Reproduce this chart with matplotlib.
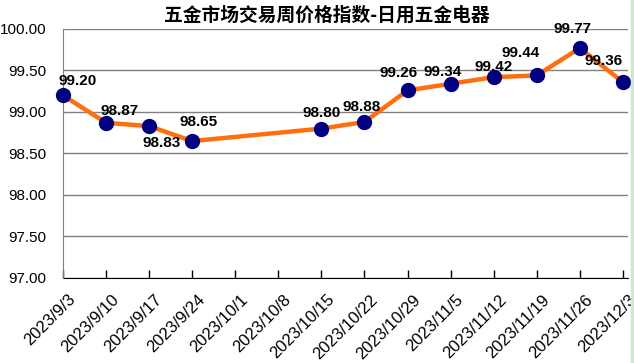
import matplotlib
matplotlib.use("Agg")
import matplotlib.pyplot as plt
import matplotlib.transforms as mtrans
from matplotlib.patches import Rectangle

# weekly dates shown on the x axis (10/1 and 10/8 have no data)
dates = ["2023/9/3", "2023/9/10", "2023/9/17", "2023/9/24", "2023/10/1", "2023/10/8",
         "2023/10/15", "2023/10/22", "2023/10/29", "2023/11/5", "2023/11/12",
         "2023/11/19", "2023/11/26", "2023/12/3"]
values = [99.20, 98.87, 98.83, 98.65, None, None, 98.80, 98.88, 99.26, 99.34,
          99.42, 99.44, 99.77, 99.36]
yticks = [97.0, 97.5, 98.0, 98.5, 99.0, 99.5, 100.0]
title = "五金市场交易周价格指数-日用五金电器"

# label offsets in pixels, per point
label_off = [(15, 14), (13, 12), (12, -17), (6, 19), None, None, (0, 16), (-3, 15),
             (-9, 17), (-8, 12), (0, 10), (-16, 22), (-7, 19), (-19, 21)]

plt.rcParams['font.family'] = ['Liberation Sans', 'Noto Sans CJK SC', 'DejaVu Sans']

fig = plt.figure(figsize=(6.34, 3.63), dpi=100)
ax = fig.add_axes([63 / 634, 1 - 278 / 363, (628 - 63) / 634, (278 - 29) / 363])

xs = [i for i, v in enumerate(values) if v is not None]
ys = [v for v in values if v is not None]
ax.plot(xs, ys, color="#FF6F0F", lw=3.2, zorder=3, clip_on=False)
ax.plot(xs, ys, ls="none", marker="o", ms=10, color="#000080", zorder=4, clip_on=False)

for i, v in enumerate(values):
    if v is None:
        continue
    dx, dy = label_off[i]
    ax.annotate("%.2f" % v, (i, v), xytext=(dx, dy), textcoords="offset pixels",
                ha="center", va="center", fontsize=11, fontweight="bold", zorder=5)

ax.set_xlim(0, 13.12)
ax.set_ylim(97, 100)
ax.set_yticks(yticks)
ax.set_yticklabels(["%.2f" % t for t in yticks], fontsize=11)
ax.tick_params(axis="y", length=0, pad=12)
ax.set_xticks(range(len(dates)))
ax.set_xticklabels(dates, rotation=45, ha="right", va="top", rotation_mode="anchor", fontsize=12)
ax.tick_params(axis="x", direction="in", length=6, width=1, pad=10)
shift = mtrans.ScaledTranslation(5 / 100, 0, fig.dpi_scale_trans)
for lab in ax.get_xticklabels():
    lab.set_transform(lab.get_transform() + shift)
ax.grid(axis="y", color="#808080", lw=1)
ax.set_axisbelow(True)
for s in ["top", "right"]:
    ax.spines[s].set_visible(False)
ax.spines["left"].set_color("#808080")
ax.spines["bottom"].set_color("black")
ax.spines["bottom"].set_zorder(2)

fig.text(327 / 634, 1 - 15 / 363, title, ha="center", va="center", fontsize=13.5,
         fontweight="bold", family=['Noto Sans CJK SC', 'DejaVu Sans'])

# spreadsheet edge at the right
fig.patches.append(Rectangle((631 / 634, 0), 3 / 634, 1, transform=fig.transFigure,
                             color="#CDE8CD", zorder=0))

fig.savefig("out.png", dpi=100)
